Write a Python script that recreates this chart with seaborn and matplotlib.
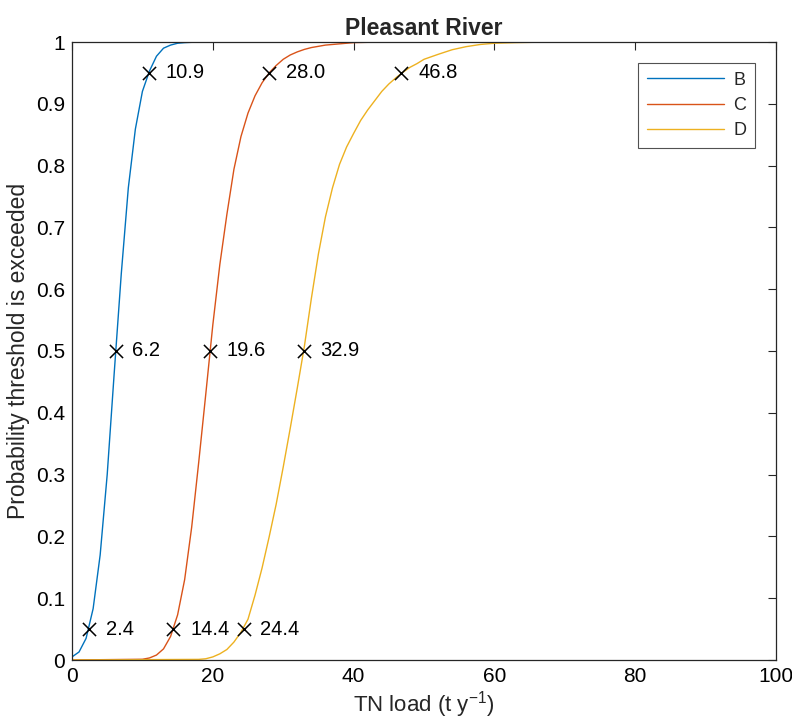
import matplotlib
matplotlib.use("Agg")
import matplotlib.pyplot as plt
import seaborn as sns
import pandas as pd

# ---- data ----
series_names = ["B", "C", "D"]

B_x = [0, 1, 2, 3, 4, 5, 6, 7, 8, 9, 10, 11, 12, 13, 14, 15, 16, 18, 100]
B_y = [0.005, 0.013, 0.035, 0.083, 0.17, 0.30, 0.465, 0.625, 0.764, 0.859,
       0.92, 0.953, 0.977, 0.99, 0.995, 0.998, 0.999, 1.0, 1.0]

C_x = [0, 10, 11, 12, 13, 14, 15, 16, 17, 18, 19, 20, 21, 22, 23, 24, 25, 26,
       27, 28, 29, 30, 31, 32, 33, 34, 35, 36, 38, 40, 44, 100]
C_y = [0.0, 0.0012, 0.0033, 0.008, 0.018, 0.038, 0.073, 0.13, 0.215, 0.32,
       0.43, 0.542, 0.64, 0.721, 0.794, 0.847, 0.885, 0.913, 0.934, 0.95,
       0.962, 0.972, 0.979, 0.984, 0.988, 0.991, 0.993, 0.995, 0.997, 0.999,
       1.0, 1.0]

D_x = [0, 18, 19, 20, 21, 22, 23, 24, 25, 26, 27, 28, 29, 30, 31, 32, 33, 34,
       35, 36, 37, 38, 39, 40, 41, 42, 43, 44, 45, 46, 47, 48, 49, 50, 52, 54,
       56, 58, 60, 63, 68, 100]
D_y = [0.0, 0.001, 0.002, 0.005, 0.010, 0.017, 0.029, 0.045, 0.066, 0.105,
       0.149, 0.199, 0.252, 0.312, 0.375, 0.44, 0.507, 0.585, 0.657, 0.717,
       0.764, 0.802, 0.83, 0.852, 0.873, 0.89, 0.905, 0.92, 0.932, 0.942,
       0.951, 0.959, 0.965, 0.972, 0.98, 0.9875, 0.9925, 0.996, 0.998, 0.999,
       1.0, 1.0]

q_levels = [0.05, 0.5, 0.95]
B_q = [2.4, 6.2, 10.9]
C_q = [14.4, 19.6, 28.0]
D_q = [24.4, 32.9, 46.8]

colors = ["#0072BD", "#D95319", "#EDB120"]

# ---- build tables ----
curve_df = pd.concat([
    pd.DataFrame({"load": B_x, "prob": B_y, "series": "B"}),
    pd.DataFrame({"load": C_x, "prob": C_y, "series": "C"}),
    pd.DataFrame({"load": D_x, "prob": D_y, "series": "D"}),
], ignore_index=True)

q_df = pd.concat([
    pd.DataFrame({"load": B_q, "prob": q_levels}),
    pd.DataFrame({"load": C_q, "prob": q_levels}),
    pd.DataFrame({"load": D_q, "prob": q_levels}),
], ignore_index=True)

sns.set_style("white")
plt.rcParams["font.family"] = ["Liberation Sans", "DejaVu Sans"]
plt.rcParams["mathtext.fontset"] = "custom"
plt.rcParams["mathtext.rm"] = "Liberation Sans"
plt.rcParams["mathtext.it"] = "Liberation Sans"

fig = plt.figure(figsize=(7.92, 7.22), dpi=100)
ax = fig.add_axes([72 / 792, 62 / 722, (776 - 72) / 792, (660 - 42) / 722])

sns.lineplot(data=curve_df, x="load", y="prob", hue="series",
             hue_order=series_names, palette=colors, estimator=None,
             sort=False, linewidth=1.0, ax=ax)

sns.scatterplot(data=q_df, x="load", y="prob", marker="x", color="black",
                s=90, linewidth=1.1, legend=False, ax=ax, zorder=5)

for v, p in zip(q_df["load"], q_df["prob"]):
    ax.annotate(f"{v:.1f}", (v, p), xytext=(12, 0), textcoords="offset points",
                va="center", ha="left", fontsize=14.5, color="black")

ax.set_xlim(0, 100)
ax.set_ylim(0, 1)
ax.set_xticks([0, 20, 40, 60, 80, 100])
ax.set_yticks([i / 10 for i in range(11)])
ax.set_yticklabels(["0", "0.1", "0.2", "0.3", "0.4", "0.5", "0.6", "0.7",
                    "0.8", "0.9", "1"])
ax.tick_params(direction="in", length=6, width=0.8, colors="#262626",
               labelsize=15, top=True, right=True, pad=5)
for lab in ax.get_xticklabels() + ax.get_yticklabels():
    lab.set_color("black")
for sp in ax.spines.values():
    sp.set_color("#262626")
    sp.set_linewidth(0.9)

ax.set_xlabel(r"TN load (t y$^{-1}$)", fontsize=16, color="#262626", labelpad=2)
ax.set_ylabel("Probability threshold is exceeded", fontsize=16.5,
              color="#262626", labelpad=4)
ax.set_title("Pleasant River", fontsize=16.5, fontweight="bold", pad=5)

leg = ax.legend(title=None, loc="upper right", fontsize=13, handlelength=4.3,
                frameon=True, fancybox=False, edgecolor="#262626",
                borderaxespad=1.15, labelspacing=0.45, handletextpad=0.5,
                borderpad=0.5)
leg.get_frame().set_linewidth(0.8)

fig.savefig("out.png", dpi=100, facecolor="white")
